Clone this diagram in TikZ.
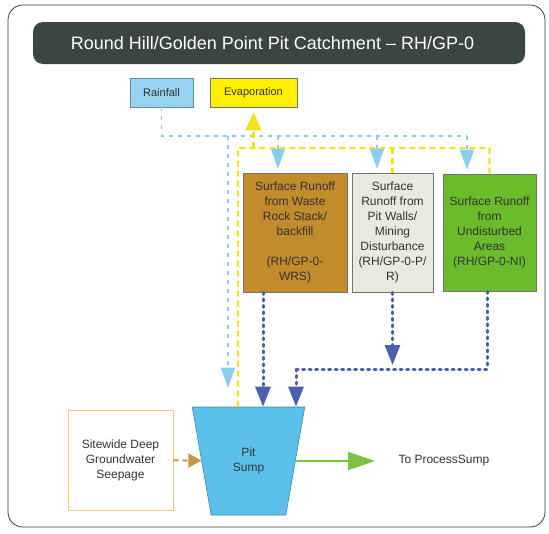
\documentclass[tikz,border=0pt]{standalone}
\usepackage{fontspec}
\setmainfont{Liberation Sans}
\usetikzlibrary{arrows.meta,shapes.geometric}
\definecolor{titlegray}{HTML}{3B4541}
\definecolor{framegray}{HTML}{3A3A3A}
\definecolor{rainblue}{HTML}{8DCBF0}
\definecolor{rainfill}{HTML}{98D3F2}
\definecolor{evapyellow}{HTML}{F2E21E}
\definecolor{evapfill}{HTML}{FFF000}
\definecolor{runblue}{HTML}{4B5FAE}
\definecolor{wrsfill}{HTML}{C28B2C}
\definecolor{pwrfill}{HTML}{E8EADF}
\definecolor{nlfill}{HTML}{6CBB2A}
\definecolor{pitfill}{HTML}{5CC1EA}
\definecolor{seepedge}{HTML}{F5C97C}
\definecolor{seepbrown}{HTML}{C8963C}
\definecolor{outgreen}{HTML}{7CC242}
\begin{document}
\begin{tikzpicture}[x=1pt,y=-1pt,
  txt/.style={font=\fontsize{12}{15}\selectfont,text=black!80,align=center},
  flowbox/.style={txt,draw=black!55,line width=0.6pt,inner sep=2pt},
  rainline/.style={draw=rainblue,line width=1.6pt,dash pattern=on 4pt off 5pt},
  rainarrow/.style={rainline,-{Triangle[width=14pt,length=20pt,fill=rainblue]}},
  evapline/.style={draw=evapyellow,line width=2.2pt,dash pattern=on 6pt off 4pt},
  evaparrow/.style={evapline,-{Triangle[width=16pt,length=18pt]}},
  runline/.style={draw=runblue,line width=3pt,line cap=round,dash pattern=on 2pt off 4.5pt},
  runarrow/.style={runline,-{Triangle[width=15pt,length=20pt]}},
  seeparrow/.style={draw=seepbrown,line width=2pt,dash pattern=on 5pt off 4pt,-{Triangle[width=14pt,length=13pt]}},
  outarrow/.style={draw=outgreen,line width=2pt,-{Triangle[width=18pt,length=27pt]}}]
\useasboundingbox (0,0) rectangle (549,533);
\draw[framegray,line width=0.8pt,rounded corners=15pt] (8,5) rectangle (545,527);
\node[fill=titlegray,rounded corners=10pt,minimum width=492pt,minimum height=42pt,
  text=white,font=\fontsize{18}{21}\selectfont] (title) at (279,43)
  {\hspace*{-13pt}Round Hill/Golden Point Pit Catchment -- RH/GP-0};
\node[flowbox,fill=rainfill,draw=rainblue!70!black,font=\fontsize{11}{13}\selectfont,
  minimum width=63pt,minimum height=29pt] (rain) at (161.5,92.5) {Rainfall};
\node[flowbox,fill=evapfill,font=\fontsize{11}{13}\selectfont,
  minimum width=87pt,minimum height=29pt] (evap) at (253.5,92.5) {Evaporation};
\node[flowbox,fill=wrsfill,minimum width=104pt,minimum height=119pt] (wrs) at (295,232.5)
  {Surface Runoff\\from Waste\\Rock Stack/\\backfill\\[15pt](RH/GP-0-\\WRS)};
\node[flowbox,fill=pwrfill,minimum width=81pt,minimum height=119pt] (pwr) at (392.5,232.5)
  {Surface\\Runoff from\\Pit Walls/\\Mining\\Disturbance\\(RH/GP-0-P/\\R)};
\node[flowbox,fill=nlfill,minimum width=93pt,minimum height=117pt] (nl) at (489.5,232.5)
  {Surface Runoff\\from\\Undisturbed\\Areas\\(RH/GP-0-NI)};
\node[txt,trapezium,trapezium angle=73.7,shape border rotate=180,trapezium stretches=true,
  minimum width=113pt,minimum height=108pt,fill=pitfill,draw=pitfill!70!black,line width=0.6pt]
  (pit) at (248.5,461) {Pit\\Sump};
\node[txt,draw=seepedge,line width=1pt,minimum width=105pt,minimum height=100pt] (seep)
  at (120.5,460) {Sitewide Deep\\Groundwater\\Seepage};
\node[txt,anchor=west] (sump) at (395,461) {To ProcessSump};
\coordinate (rbus) at (467,136);
\coordinate (ybus) at (238,148);
\coordinate (dbus) at (296,369);
\draw[rainline] (rain.south) |- (rbus);
\draw[rainarrow] (rbus) -- ([yshift=4pt]rbus |- nl.north);
\draw[rainarrow] ([xshift=-15.5pt]pwr.north |- rbus) -- ([xshift=-15.5pt,yshift=4pt]pwr.north);
\draw[rainarrow] ([xshift=-17pt]wrs.north |- rbus) -- ([xshift=-17pt,yshift=4pt]wrs.north);
\draw[rainarrow] ([xshift=-20.5pt]pit.north |- rbus) -- ([xshift=-20.5pt,yshift=19pt]pit.north);
\draw[evapline] ([xshift=-10.5pt]pit.north) -- (ybus) -| (nl.north);
\draw[evapline] (ybus -| pwr.north) -- (pwr.north);
\draw[evaparrow] (ybus -| evap.south) -- ([yshift=-5pt]evap.south);
\draw[runarrow] ([xshift=-32pt]wrs.south) -- ([xshift=-32pt]wrs.south |- pit.north);
\draw[runline] ([xshift=-2.5pt]nl.south) |- (dbus);
\draw[runarrow] (dbus) -- (dbus |- pit.north);
\draw[runarrow] (pwr.south) -- ([yshift=4pt]pwr.south |- dbus);
\draw[seeparrow] (seep) -- (pit);
\draw[outarrow,shorten >=20pt] (pit) -- (sump.west);
\end{tikzpicture}
\end{document}
